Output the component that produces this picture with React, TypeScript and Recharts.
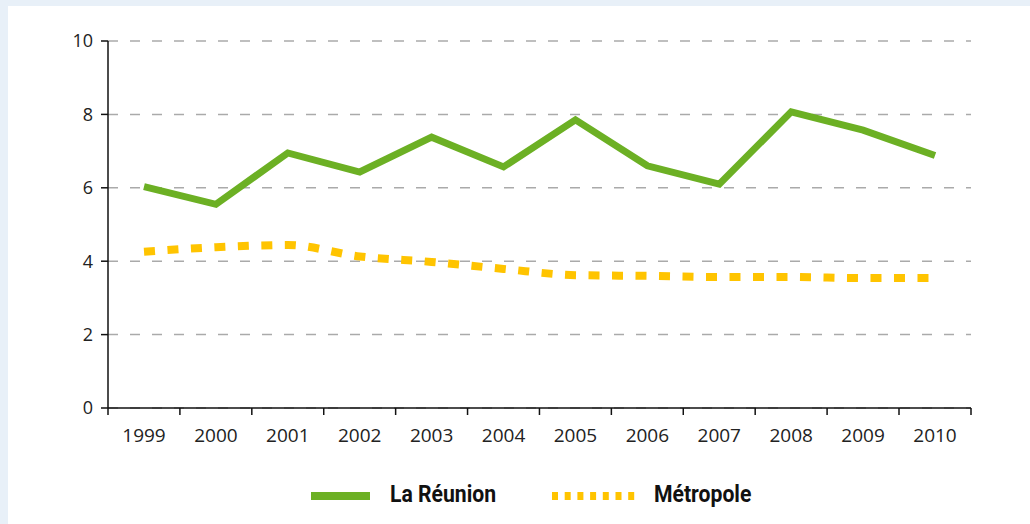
import { LineChart, Line, XAxis, YAxis, CartesianGrid } from "recharts";

const years = ["1999", "2000", "2001", "2002", "2003", "2004", "2005", "2006", "2007", "2008", "2009", "2010"];
const reunion = [6.03, 5.55, 6.95, 6.43, 7.38, 6.57, 7.85, 6.6, 6.1, 8.07, 7.57, 6.88];
const metropole = [4.26, 4.38, 4.44, 4.13, 3.98, 3.79, 3.62, 3.6, 3.57, 3.57, 3.54, 3.54];
const yTicks = [0, 2, 4, 6, 8, 10];

const GREEN = "#6cb024";
const YELLOW = "#ffc400";
const HALF_BAND = 36;

const data = years.map((year, i) => ({ year, reunion: reunion[i], metropole: metropole[i] }));

function YearTick(props: any) {
  const { x, y, payload, index } = props;
  return (
    <g>
      <line x1={x - HALF_BAND} x2={x - HALF_BAND} y1={y - 7} y2={y} stroke="#111" strokeWidth={1.5} />
      {index === years.length - 1 && (
        <line x1={x + HALF_BAND} x2={x + HALF_BAND} y1={y - 7} y2={y} stroke="#111" strokeWidth={1.5} />
      )}
      <text x={x} y={y + 27} textAnchor="middle" fill="#222" fontSize={19} fontFamily="'Open Sans', sans-serif">
        {payload.value}
      </text>
    </g>
  );
}

const legendText: any = {
  position: "absolute",
  top: 481,
  lineHeight: "28px",
  fontFamily: "Roboto, sans-serif",
  fontWeight: 700,
  fontSize: 23,
  color: "#111",
  whiteSpace: "nowrap",
  transform: "scaleX(0.92)",
  transformOrigin: "left center",
};

export default function App() {
  return (
    <div style={{ position: "absolute", left: 0, top: 0, width: 1030, height: 524, background: "#e8f0f8" }}>
      <div style={{ position: "absolute", left: 8, top: 6, width: 1022, height: 518, background: "#fff" }} />
      <div style={{ position: "absolute", left: 0, top: 0 }}>
        <LineChart width={1030} height={524} data={data} margin={{ top: 41, right: 59, left: 48, bottom: 76 }}>
          <CartesianGrid vertical={false} stroke="#aaa" strokeDasharray="10 12" strokeWidth={1.5} />
          <XAxis
            dataKey="year"
            height={40}
            padding={{ left: HALF_BAND, right: HALF_BAND }}
            axisLine={{ stroke: "#111", strokeWidth: 1.5 }}
            tickLine={false}
            tickSize={7}
            tickMargin={0}
            interval={0}
            tick={<YearTick />}
          />
          <YAxis
            width={60}
            domain={[0, 10]}
            ticks={yTicks}
            axisLine={{ stroke: "#111", strokeWidth: 1.5 }}
            tickLine={{ stroke: "#111", strokeWidth: 1.5 }}
            tickSize={7}
            tickMargin={8}
            tick={{ fill: "#222", fontSize: 18, fontFamily: "'Open Sans', sans-serif" }}
          />
          <Line
            dataKey="metropole"
            type="monotone"
            stroke={YELLOW}
            strokeWidth={8}
            strokeDasharray="11 12.5"
            dot={false}
            isAnimationActive={false}
          />
          <Line
            dataKey="reunion"
            type="linear"
            stroke={GREEN}
            strokeWidth={7}
            dot={false}
            isAnimationActive={false}
          />
        </LineChart>
      </div>
      <svg width={1030} height={20} style={{ position: "absolute", left: 0, top: 486 }}>
        <line x1={311} x2={370} y1={10} y2={10} stroke={GREEN} strokeWidth={8} />
        <line x1={552} x2={635} y1={10} y2={10} stroke={YELLOW} strokeWidth={8} strokeDasharray="6 6.7" />
      </svg>
      <div style={{ ...legendText, left: 390 }}>La Réunion</div>
      <div style={{ ...legendText, left: 654 }}>Métropole</div>
    </div>
  );
}
